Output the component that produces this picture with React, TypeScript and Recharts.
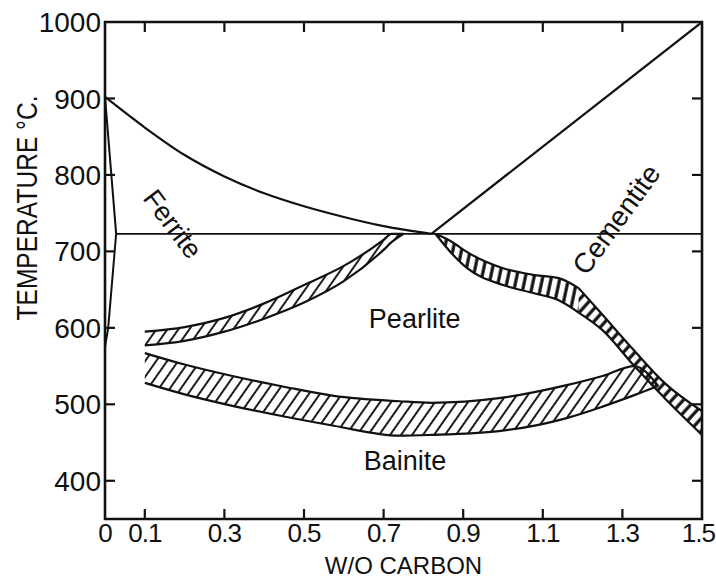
import React from "react";
import { ComposedChart, Area, Line, XAxis, YAxis, ReferenceDot, ReferenceArea } from "recharts";

const FONT = "'Liberation Sans', Arial, sans-serif";
const INK = "#111";
const PLOT_W = 597;
const PLOT_H = 497;

// axis ticks
const X_TICKS = [0, 0.1, 0.3, 0.5, 0.7, 0.9, 1.1, 1.3, 1.5];
const Y_TICKS = [400, 500, 600, 700, 800, 900, 1000];

// A3 line (upper ferrite boundary)
const A3_C = [0, 0.1, 0.2, 0.3, 0.4, 0.5, 0.6, 0.7, 0.82];
const A3_T = [902, 862, 826, 798, 776, 759, 745, 733, 723];

// Acm line
const ACM_C = [0.82, 1.5];
const ACM_T = [723, 1000];

// A1 eutectoid line
const A1_C = [0.028, 1.5];
const A1_T = [723, 723];

// ferrite solubility limit near 0 %C
const SOLVUS_C = [0, 0.028, 0.008, 0];
const SOLVUS_T = [902, 723, 600, 575];

// pro-eutectoid ferrite / pearlite band (hypoeutectoid side)
const PEARL_C = [0.1, 0.2, 0.3, 0.4, 0.5, 0.6, 0.7, 0.72, 0.75];
const PEARL_HI = [595, 601, 613, 632, 656, 681, 715, 723, 723];
const PEARL_LO = [577, 583, 595, 612, 633, 661, 702, 712, 723];

// cementite band (hypereutectoid side), flat then steep part
const CEM_FLAT_C = [0.83, 0.87, 0.91, 1.0, 1.08, 1.14, 1.19];
const CEM_FLAT_HI = [723, 713, 699, 678, 669, 665, 652];
const CEM_FLAT_LO = [723, 698, 678, 656, 645, 636, 620];
const CEM_STEEP_C = [1.19, 1.25, 1.33, 1.41, 1.5];
const CEM_STEEP_HI = [652, 617, 570, 526, 491];
const CEM_STEEP_LO = [620, 597, 550, 506, 460];

// bainite band
const BAIN_C = [0.1, 0.2, 0.32, 0.45, 0.575, 0.74, 0.82, 0.99, 1.16, 1.25, 1.33, 1.39];
const BAIN_HI = [567, 552, 537, 523, 511, 504, 502, 508, 525, 537, 550, 524];
const BAIN_LO = [528, 513, 498, 484, 472, 459, 460, 465, 482, 497, 512, 524];

const pts = (cs: number[], ts: number[]) => cs.map((c, i) => ({ c, t: ts[i] }));
const band = (cs: number[], lo: number[], hi: number[]) =>
  cs.map((c, i) => ({ c, r: [lo[i], hi[i]] }));

const lineProps = {
  dataKey: "t",
  stroke: INK,
  dot: false,
  activeDot: false,
  isAnimationActive: false,
} as const;

const areaProps = {
  dataKey: "r",
  stroke: INK,
  strokeWidth: 2.2,
  type: "monotone",
  dot: false,
  activeDot: false,
  isAnimationActive: false,
} as const;

const labelStyle = { fontSize: 27, fill: INK, fontFamily: FONT };

// bottom tick: label below, short inward ticks on bottom and top frame
function BottomTick(props: any) {
  const { x, y, payload } = props;
  const v = payload.value;
  const inner = v > 0 && v < 1.5;
  const last = v === 1.5;
  return (
    <g>
      {inner && <line x1={x} y1={y} x2={x} y2={y - 10} stroke={INK} strokeWidth={2.2} />}
      {inner && <line x1={x} y1={y - PLOT_H} x2={x} y2={y - PLOT_H + 10} stroke={INK} strokeWidth={2.2} />}
      <text
        x={last ? x + 13 : x}
        y={y + 4}
        dy="0.72em"
        textAnchor={last ? "end" : "middle"}
        fontSize={26}
        fontFamily={FONT}
        fill={INK}
        letterSpacing={-1}
      >
        {String(v)}
      </text>
    </g>
  );
}

// left tick: label left, short inward ticks on left and right frame
function LeftTick(props: any) {
  const { x, y, payload } = props;
  const v = payload.value;
  const inner = v < 1000;
  return (
    <g>
      {inner && <line x1={x} y1={y} x2={x + 10} y2={y} stroke={INK} strokeWidth={2.2} />}
      {inner && <line x1={x + PLOT_W} y1={y} x2={x + PLOT_W - 10} y2={y} stroke={INK} strokeWidth={2.2} />}
      <text x={x - 4} y={y} dy="0.36em" textAnchor="end" fontSize={28} fontFamily={FONT} fill={INK}>
        {String(v)}
      </text>
    </g>
  );
}

function YTitle(props: any) {
  const { viewBox } = props;
  return (
    <text
      transform={`translate(${viewBox.x + 37}, ${viewBox.y + 186}) rotate(-90)`}
      textAnchor="middle"
      fontSize={30}
      fontFamily={FONT}
      fill={INK}
      textLength={225}
      lengthAdjust="spacingAndGlyphs"
    >
      TEMPERATURE °C.
    </text>
  );
}

export default function App() {
  return (
    <div style={{ position: "absolute", left: 0, top: 0, background: "#fff" }}>
      <ComposedChart width={716} height={578} margin={{ top: 22, right: 14, bottom: 0, left: 0 }}>
        <defs>
          <pattern id="diag" patternUnits="userSpaceOnUse" width="9" height="9" patternTransform="rotate(35)">
            <line x1="2" y1="0" x2="2" y2="9" stroke={INK} strokeWidth="1.9" />
          </pattern>
          <pattern id="rungFlat" patternUnits="userSpaceOnUse" width="8.5" height="8.5" patternTransform="rotate(12)">
            <line x1="2" y1="0" x2="2" y2="8.5" stroke={INK} strokeWidth="3.2" />
          </pattern>
          <pattern id="rungSteep" patternUnits="userSpaceOnUse" width="8.5" height="8.5" patternTransform="rotate(42)">
            <line x1="2" y1="0" x2="2" y2="8.5" stroke={INK} strokeWidth="3.2" />
          </pattern>
        </defs>

        <XAxis
          dataKey="c"
          type="number"
          domain={[0, 1.5]}
          ticks={X_TICKS}
          interval={0}
          height={59}
          tickSize={0}
          tickMargin={0}
          tick={BottomTick}
          axisLine={false}
          tickLine={false}
          allowDataOverflow
          label={{ value: "W/O CARBON", position: "insideBottom", offset: 4, ...labelStyle, fontSize: 24 }}
        />
        <YAxis
          type="number"
          domain={[350, 1000]}
          ticks={Y_TICKS}
          interval={0}
          width={105}
          tickSize={0}
          tickMargin={0}
          tick={LeftTick}
          axisLine={false}
          tickLine={false}
          allowDataOverflow
          label={{ content: YTitle }}
        />

        <Area {...areaProps} data={band(BAIN_C, BAIN_LO, BAIN_HI)} fill="url(#diag)" fillOpacity={1} />
        <Area {...areaProps} data={band(PEARL_C, PEARL_LO, PEARL_HI)} fill="url(#diag)" fillOpacity={1} />
        <Area {...areaProps} data={band(CEM_FLAT_C, CEM_FLAT_LO, CEM_FLAT_HI)} fill="url(#rungFlat)" fillOpacity={1} />
        <Area {...areaProps} data={band(CEM_STEEP_C, CEM_STEEP_LO, CEM_STEEP_HI)} fill="url(#rungSteep)" fillOpacity={1} />

        <Line {...lineProps} data={pts(A3_C, A3_T)} type="monotone" strokeWidth={2.2} />
        <Line {...lineProps} data={pts(ACM_C, ACM_T)} type="linear" strokeWidth={2.2} />
        <Line {...lineProps} data={pts(A1_C, A1_T)} type="linear" strokeWidth={1.8} />
        <Line {...lineProps} data={pts(SOLVUS_C, SOLVUS_T)} type="linear" strokeWidth={2} />

        <ReferenceArea x1={0} x2={1.5} y1={350} y2={1000} fill="none" stroke={INK} strokeWidth={2.6} ifOverflow="visible" />

        <ReferenceDot x={0.171} y={736} r={0} stroke="none" fill="none"
          label={{ value: "Ferrite", angle: 53, position: "center", ...labelStyle }} />
        <ReferenceDot x={0.778} y={612} r={0} stroke="none" fill="none"
          label={{ value: "Pearlite", position: "center", ...labelStyle }} />
        <ReferenceDot x={0.754} y={426} r={0} stroke="none" fill="none"
          label={{ value: "Bainite", position: "center", ...labelStyle }} />
        <ReferenceDot x={1.284} y={742} r={0} stroke="none" fill="none"
          label={{ value: "Cementite", angle: -54, position: "center", ...labelStyle, fontSize: 28 }} />
      </ComposedChart>
    </div>
  );
}
